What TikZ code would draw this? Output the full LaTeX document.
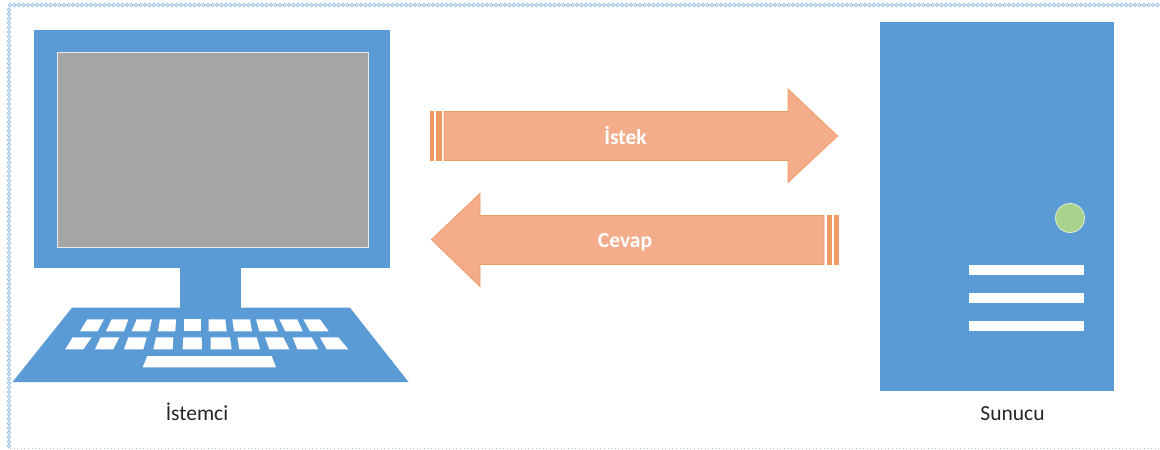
\documentclass[tikz,border=0pt]{standalone}
\usepackage{fontspec}
\setmainfont{Carlito}
\definecolor{pcblue}{HTML}{5B9BD5}
\definecolor{screengray}{HTML}{A5A5A5}
\definecolor{arrowfill}{HTML}{F4AD8B}
\definecolor{arrowedge}{HTML}{EE9A62}
\definecolor{ledgreen}{HTML}{A9D18E}
\definecolor{chainblue}{HTML}{9DC3E6}
\definecolor{dotgray}{HTML}{B4C4D0}
\tikzset{
  x=1pt,y=-1pt,
  solidblue/.style={fill=pcblue,draw=none},
  whitepart/.style={fill=white,draw=none},
  flow/.style={fill=arrowfill,draw=arrowedge,line width=0.8pt,line join=miter},
  strip/.style={fill=arrowedge,draw=none},
  chain/.style={draw=chainblue,line width=0.8pt,fill=none},
  arrowtext/.style={text=white,font=\fontsize{21.5}{25}\selectfont\bfseries,inner sep=0pt},
  caption/.style={text=black!85,font=\fontsize{21.5}{25}\selectfont,inner sep=0pt},
}
\begin{document}
\begin{tikzpicture}
\useasboundingbox (0,0) rectangle (1160,450);
\fill[white] (0,0) rectangle (1160,450);
% frame
\foreach \i in {0,...,255} \draw[chain] ({10+4.5*\i},5) circle (1.8);
\foreach \i in {1,...,98} \draw[chain] (9,{5+4.5*\i}) circle (1.8);
\draw[dotgray,line width=0.8pt,dash pattern=on 1pt off 2.6pt] (10,448.5) -- (1160,448.5);
% monitor
\fill[solidblue] (34,30) rectangle (390,268);
\fill[screengray] (57,52) rectangle (368,247);
\draw[white!75!screengray,line width=0.8pt] (57,52) rectangle (368,247);
\fill[solidblue] (180,268) rectangle (241,308);
% keyboard
\fill[solidblue] (72,307.7) -- (350,307.7) -- (408.5,382) -- (12.5,382) -- cycle;
\foreach \a/\b/\c/\d in {262/312/293/240,335/385/372/318,410/456/448/395,480/528/526/474,552/602/602/552,626/676/680/626,697/750/756/702,768/820/834/778,838/892/908/856,910/960/986/930}
  \fill[whitepart] ({\a/3},319.3) -- ({\b/3},319.3) -- ({\c/3},331.3) -- ({\d/3},331.3) -- cycle;
\foreach \a/\b/\c/\d in {218/275/250/196,302/358/340/285,385/440/430/372,468/520/518/460,550/605/606/548,632/690/695/632,712/770/780/718,795/850/868/808,878/935/955/892,960/1015/1045/980}
  \fill[whitepart] ({\a/3},337.3) -- ({\b/3},337.3) -- ({\c/3},349.3) -- ({\d/3},349.3) -- cycle;
\fill[whitepart] (147.3,356) -- (271.7,356) -- (276,367.3) -- (142.7,367.3) -- cycle;
% server
\fill[solidblue] (880,22) rectangle (1114,391);
\fill[ledgreen,draw=white!60!ledgreen,line width=0.8pt] (1070,218) circle (14.5);
\fill[whitepart] (969,265) rectangle (1084,274.5);
\fill[whitepart] (969,293) rectangle (1084,302.5);
\fill[whitepart] (969,321) rectangle (1084,331);
% request arrow
\fill[strip] (429.5,111) rectangle (434,161);
\fill[strip] (436,111) rectangle (442,161);
\draw[flow] (444,111.5) -- (788,111.5) -- (788,89) -- (837.5,136) -- (788,182.5) -- (788,160.5) -- (444,160.5) -- cycle;
\node[arrowtext,anchor=base] (istek) at (625.5,144) {İstek};
% response arrow
\fill[strip] (827,215) rectangle (832,265);
\fill[strip] (834,215) rectangle (839,265);
\draw[flow] (824,215.5) -- (480,215.5) -- (480,193.5) -- (431.5,239.5) -- (480,286.5) -- (480,264.5) -- (824,264.5) -- cycle;
\node[arrowtext,anchor=base] (cevap) at (625,247.5) {Cevap};
% captions
\node[caption,anchor=base] (istemci) at (197,420.5) {İstemci};
\node[caption,anchor=base] (sunucu) at (1012.5,420.5) {Sunucu};
\end{tikzpicture}
\end{document}
